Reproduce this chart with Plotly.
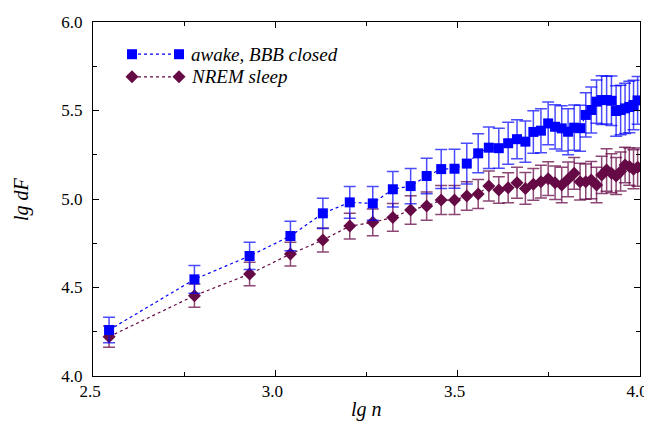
import numpy as np
import plotly.graph_objects as go

n_values = [350, 600, 850, 1100, 1350, 1600, 1850, 2100, 2350, 2600, 2850, 3100,
            3350, 3600, 3850, 4100, 4350, 4600, 4850, 5100, 5350, 5600, 5850, 6100,
            6350, 6600, 6850, 7100, 7350, 7600, 7850, 8100, 8350, 8600, 8850, 9100,
            9350, 9600, 9850]

awake = [4.260, 4.546, 4.678, 4.791, 4.919, 4.981, 4.975, 5.055, 5.073, 5.130,
         5.169, 5.171, 5.200, 5.258, 5.290, 5.287, 5.315, 5.338, 5.324, 5.379,
         5.386, 5.427, 5.408, 5.399, 5.380, 5.403, 5.400, 5.475, 5.503, 5.550,
         5.559, 5.559, 5.555, 5.497, 5.503, 5.512, 5.520, 5.531, 5.557]
awake_err = [0.072, 0.079, 0.077, 0.083, 0.085, 0.090, 0.095, 0.100, 0.100, 0.100,
             0.110, 0.110, 0.115, 0.110, 0.117, 0.113, 0.118, 0.110, 0.116, 0.120,
             0.124, 0.121, 0.125, 0.128, 0.130, 0.128, 0.130, 0.125, 0.130, 0.122,
             0.138, 0.135, 0.140, 0.143, 0.140, 0.142, 0.145, 0.140, 0.135]

nrem = [4.222, 4.454, 4.576, 4.689, 4.768, 4.847, 4.868, 4.896, 4.938, 4.960,
        4.994, 4.994, 5.017, 5.028, 5.073, 5.051, 5.064, 5.092, 5.060, 5.083,
        5.098, 5.115, 5.092, 5.079, 5.111, 5.145, 5.098, 5.098, 5.107, 5.079,
        5.136, 5.164, 5.145, 5.130, 5.155, 5.192, 5.183, 5.168, 5.180]
nrem_err = [0.060, 0.066, 0.066, 0.067, 0.068, 0.073, 0.075, 0.078, 0.080, 0.080,
            0.082, 0.082, 0.080, 0.082, 0.085, 0.075, 0.085, 0.088, 0.090, 0.090,
            0.092, 0.095, 0.095, 0.100, 0.098, 0.090, 0.104, 0.100, 0.105, 0.100,
            0.105, 0.120, 0.110, 0.105, 0.110, 0.100, 0.105, 0.110, 0.108]

x_ticks = [2.5, 3.0, 3.5, 4.0]
y_ticks = [4.0, 4.5, 5.0, 5.5, 6.0]
series_names = ["awake, BBB closed", "NREM sleep"]

BLUE = "#0000ff"
PURPLE = "#660a46"
FONT = "Times New Roman, Liberation Serif, DejaVu Serif Condensed, DejaVu Serif, serif"

lg_n = np.log10(np.array(n_values, dtype=float))

fig = go.Figure()
fig.add_trace(go.Scatter(
    x=lg_n, y=nrem, mode="lines+markers", name=series_names[1],
    line=dict(color=PURPLE, width=1.2, dash="dot"),
    marker=dict(symbol="diamond", size=10, color=PURPLE),
    error_y=dict(type="data", array=nrem_err, color="rgba(102,10,70,0.75)",
                 thickness=1.5, width=6),
    showlegend=False,
))
fig.add_trace(go.Scatter(
    x=lg_n, y=awake, mode="lines+markers", name=series_names[0],
    line=dict(color=BLUE, width=1.2, dash="dot"),
    marker=dict(symbol="square", size=10, color=BLUE),
    error_y=dict(type="data", array=awake_err, color="rgba(0,0,255,0.7)",
                 thickness=1.5, width=6),
    showlegend=False,
))

# custom legend (two markers joined by a dotted line, as in the original)
W, H = 547.0, 354.0
lx0, lx1 = 39 / W, 86 / W
rows = [(0.909, BLUE, "square"), (0.845, PURPLE, "diamond")]
shapes = []
annotations = []
for (yy, col, sym), label in zip(rows, series_names):
    shapes.append(dict(type="line", xref="paper", yref="paper", x0=lx0, x1=lx1,
                       y0=yy, y1=yy, line=dict(color=col, width=1.2, dash="dot")))
    for xc in (lx0, lx1):
        if sym == "square":
            hx, hy = 5 / W, 5 / H
            shapes.append(dict(type="rect", xref="paper", yref="paper",
                               x0=xc - hx, x1=xc + hx, y0=yy - hy, y1=yy + hy,
                               fillcolor=col, line=dict(width=0)))
        else:
            hx, hy = 6.5 / W, 6.5 / H
            path = (f"M {xc - hx} {yy} L {xc} {yy + hy} L {xc + hx} {yy} "
                    f"L {xc} {yy - hy} Z")
            shapes.append(dict(type="path", xref="paper", yref="paper", path=path,
                               fillcolor=col, line=dict(width=0)))
    annotations.append(dict(xref="paper", yref="paper", x=96 / W, y=yy,
                            xanchor="left", yanchor="middle", showarrow=False,
                            text=f"<i>{label}</i>",
                            font=dict(family=FONT, size=19, color="black")))

# axis titles as annotations (fixed positions)
annotations.append(dict(xref="paper", yref="paper", x=0.5, y=-34 / H,
                        xanchor="center", yanchor="middle", showarrow=False,
                        text="<i>lg n</i>", font=dict(family=FONT, size=20, color="black")))
annotations.append(dict(xref="paper", yref="paper", x=-72 / W, y=0.5,
                        xanchor="center", yanchor="middle", showarrow=False, textangle=-90,
                        text="<i>lg dF</i>", font=dict(family=FONT, size=20, color="black")))

axis_common = dict(
    showgrid=False, zeroline=False, showline=True, linecolor="black", linewidth=1,
    mirror="allticks", ticks="inside", ticklen=6, tickwidth=1, tickcolor="black",
    tickfont=dict(family=FONT, size=17, color="black"), tickformat=".1f",
    minor=dict(ticks="inside", ticklen=4, tickwidth=1, tickcolor="black", dtick=0.25),
    automargin=False,
)

# the page body adds an 8px margin, so the figure is sized/offset to compensate
fig.update_layout(
    width=644, height=423,
    margin=dict(l=85, r=12, t=14, b=55),
    paper_bgcolor="white", plot_bgcolor="white",
    font=dict(family=FONT),
    shapes=shapes, annotations=annotations,
    xaxis=dict(range=[2.5, 4.0], tickvals=x_ticks, ticklabelshift=-3, **axis_common),
    yaxis=dict(range=[4.0, 6.0], tickvals=y_ticks, ticklabelstandoff=6, **axis_common),
)

fig.write_html("out.html")
